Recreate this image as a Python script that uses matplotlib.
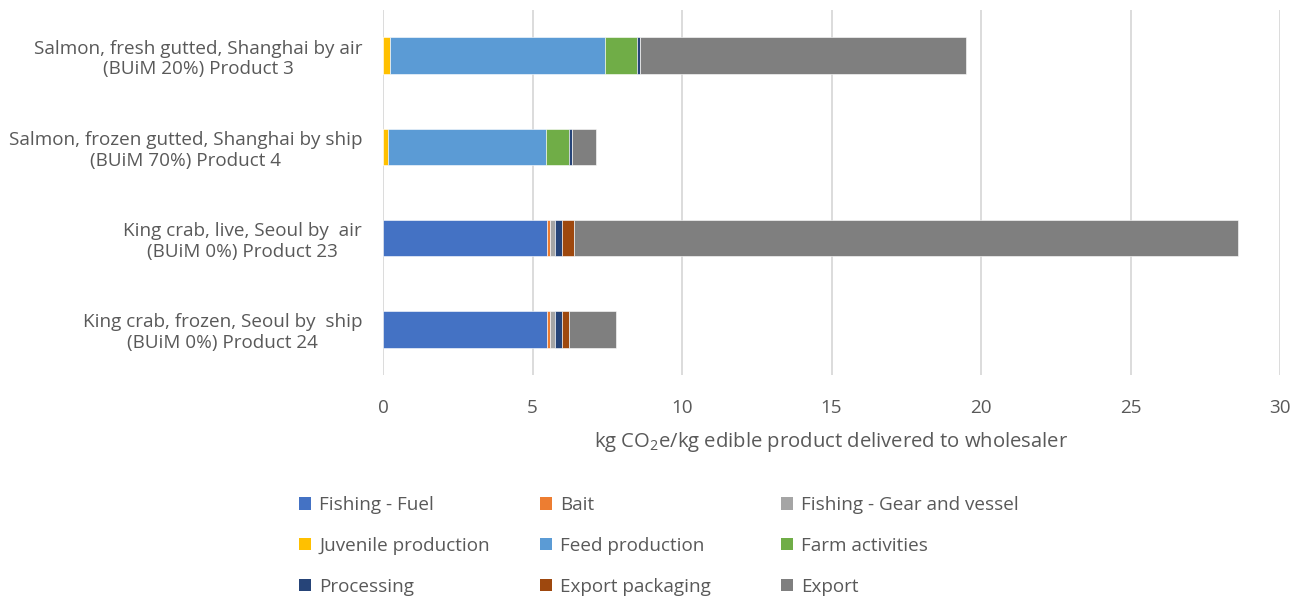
import matplotlib
matplotlib.use("Agg")
import matplotlib.pyplot as plt
import numpy as np
from matplotlib.patches import Patch

plt.rcParams['font.family'] = ['Open Sans', 'DejaVu Sans']
plt.rcParams['mathtext.fontset'] = 'custom'
plt.rcParams['mathtext.rm'] = 'Open Sans'
plt.rcParams['mathtext.it'] = 'Open Sans'
plt.rcParams['mathtext.default'] = 'rm'

products = [
    "Salmon, fresh gutted, Shanghai by air\n(BUiM 20%) Product 3",
    "Salmon, frozen gutted, Shanghai by ship\n(BUiM 70%) Product 4",
    "King crab, live, Seoul by  air\n(BUiM 0%) Product 23",
    "King crab, frozen, Seoul by  ship\n(BUiM 0%) Product 24",
]

stages = ["Fishing - Fuel", "Bait", "Fishing - Gear and vessel",
          "Juvenile production", "Feed production", "Farm activities",
          "Processing", "Export packaging", "Export"]

fishing_fuel   = [0.00, 0.00, 5.50, 5.50]
bait           = [0.00, 0.00, 0.07, 0.07]
gear_vessel    = [0.00, 0.00, 0.18, 0.18]
juvenile       = [0.22, 0.16, 0.00, 0.00]
feed           = [7.22, 5.28, 0.00, 0.00]
farm           = [1.04, 0.78, 0.00, 0.00]
processing     = [0.13, 0.09, 0.24, 0.24]
export_packing = [0.00, 0.00, 0.41, 0.22]
export         = [10.88, 0.80, 22.21, 1.59]

colors = ["#4472C4", "#ED7D31", "#A5A5A5", "#FFC000", "#5B9BD5",
          "#70AD47", "#264478", "#9E480E", "#7F7F7F"]

series = [fishing_fuel, bait, gear_vessel, juvenile, feed, farm,
          processing, export_packing, export]

txt = "#595959"
fs = 13.6

fig = plt.figure(figsize=(13.02, 6.0), dpi=100)
ax = fig.add_axes([0.2942, 0.375, 0.6889, 0.6083])

y = np.arange(len(products))
left = np.zeros(len(products))
for vals, col, name in zip(series, colors, stages):
    vals = np.array(vals)
    ax.barh(y, vals, left=left, height=0.4, color=col, label=name,
            edgecolor="white", linewidth=0.4, zorder=3)
    left += vals

ax.set_ylim(3.5, -0.5)
ax.set_xlim(0, 30)
ax.set_xticks(np.arange(0, 31, 5))
ax.set_yticks(y)
ax.set_yticklabels(products, multialignment="center")
ax.grid(axis="x", color="#D9D9D9", linewidth=1.3, zorder=0)
for s in ax.spines.values():
    s.set_visible(False)
ax.tick_params(axis="both", length=0, labelsize=fs, colors=txt)
ax.tick_params(axis="x", pad=17)
ax.tick_params(axis="y", pad=15)
ax.set_xlabel(r"kg CO$_2$e/kg edible product delivered to wholesaler",
              fontsize=14.6, color=txt, labelpad=10)

handles = [Patch(facecolor=c) for c in colors]
col_x = [0.2295, 0.4146, 0.5997]
for ci in range(3):
    idx = [ci, ci + 3, ci + 6]
    fig.legend([handles[i] for i in idx], [stages[i] for i in idx],
               loc="upper left", bbox_to_anchor=(col_x[ci], 0.173),
               frameon=False, fontsize=fs, labelcolor=txt,
               handlelength=0.62, handleheight=0.62, handletextpad=0.45,
               labelspacing=1.2, borderaxespad=0, borderpad=0)

fig.savefig("out.png", dpi=100)
